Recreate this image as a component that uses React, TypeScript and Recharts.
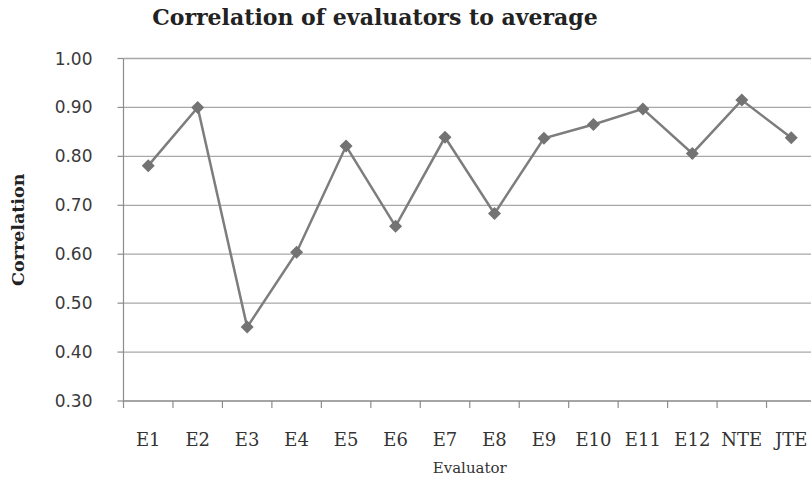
import {
  CartesianGrid,
  Line,
  LineChart,
  XAxis,
  YAxis,
} from "recharts";

const evaluators = [
  "E1", "E2", "E3", "E4", "E5", "E6", "E7",
  "E8", "E9", "E10", "E11", "E12", "NTE", "JTE",
];
const correlation = [
  0.781, 0.9, 0.451, 0.604, 0.821, 0.657, 0.839,
  0.683, 0.837, 0.865, 0.897, 0.806, 0.915, 0.838,
];
const yTicks = [0.3, 0.4, 0.5, 0.6, 0.7, 0.8, 0.9, 1.0];

const data = evaluators.map((name, i) => ({ name, value: correlation[i] }));

const CHART_W = 816;
const CHART_H = 478;
const Y_AXIS_W = 123.5;
const BAND = (CHART_W - Y_AXIS_W) / evaluators.length;

const AXIS = "#8c8c8c";
const GRID = "#a8a8a8";
const SERIES = "#7d7d7d";

// excel-style category ticks: marks on band edges, labels in the middle
function EvaluatorTick(props: any) {
  const { x, y, payload } = props;
  const edge = x - BAND / 2;
  return (
    <g>
      <line x1={edge} x2={edge} y1={y} y2={y + 7} stroke={AXIS} strokeWidth={1.2} />
      <text
        x={x}
        y={y + 38}
        textAnchor="middle"
        dominantBaseline="central"
        fontFamily="DejaVu Serif"
        fontSize={18}
        fill="#333"
      >
        {payload.value}
      </text>
    </g>
  );
}

function Diamond(props: any) {
  const { cx, cy } = props;
  if (cx == null || cy == null) return null;
  const r = 6.5;
  return (
    <polygon
      points={`${cx},${cy - r} ${cx + r},${cy} ${cx},${cy + r} ${cx - r},${cy}`}
      fill="#737373"
    />
  );
}

export default function App() {
  return (
    <div
      style={{
        position: "absolute",
        left: 0,
        top: 0,
        width: 811,
        height: CHART_H,
        overflow: "hidden",
        background: "#fff",
      }}
    >
      <div
        style={{
          position: "absolute",
          top: 4,
          left: 0,
          width: 750,
          textAlign: "center",
          fontFamily: "DejaVu Serif",
          fontWeight: "bold",
          fontSize: 22,
          color: "#222",
          whiteSpace: "nowrap",
        }}
      >
        Correlation of evaluators to average
      </div>
      <LineChart
        width={CHART_W}
        height={CHART_H}
        data={data}
        margin={{ top: 58.5, right: 0, bottom: 0, left: 0 }}
      >
        <CartesianGrid vertical={false} stroke={GRID} strokeWidth={1.3} />
        <XAxis
          dataKey="name"
          height={77}
          padding={{ left: BAND / 2, right: BAND / 2 }}
          axisLine={{ stroke: AXIS, strokeWidth: 1.2 }}
          tickLine={false}
          tickSize={0}
          tickMargin={0}
          interval={0}
          tick={<EvaluatorTick />}
          label={{
            value: "Evaluator",
            position: "insideBottom",
            offset: 5,
            fontFamily: "DejaVu Serif",
            fontSize: 15,
            fill: "#333",
          }}
        />
        <YAxis
          width={Y_AXIS_W}
          domain={[0.3, 1.0]}
          ticks={yTicks}
          interval={0}
          tickFormatter={(v: number) => v.toFixed(2)}
          axisLine={{ stroke: AXIS, strokeWidth: 1.2 }}
          tickLine={{ stroke: AXIS, strokeWidth: 1.2 }}
          tickSize={6}
          tickMargin={25}
          tick={{ fontFamily: "DejaVu Sans", fontSize: 17, fill: "#3a3a3a" }}
          label={{
            value: "Correlation",
            angle: -90,
            position: "insideLeft",
            offset: 18,
            fontFamily: "DejaVu Serif",
            fontWeight: "bold",
            fontSize: 17.5,
            fill: "#222",
            style: { textAnchor: "middle" },
          }}
        />
        <Line
          type="linear"
          dataKey="value"
          stroke={SERIES}
          strokeWidth={2.5}
          dot={<Diamond />}
          activeDot={false}
          isAnimationActive={false}
        />
      </LineChart>
    </div>
  );
}
